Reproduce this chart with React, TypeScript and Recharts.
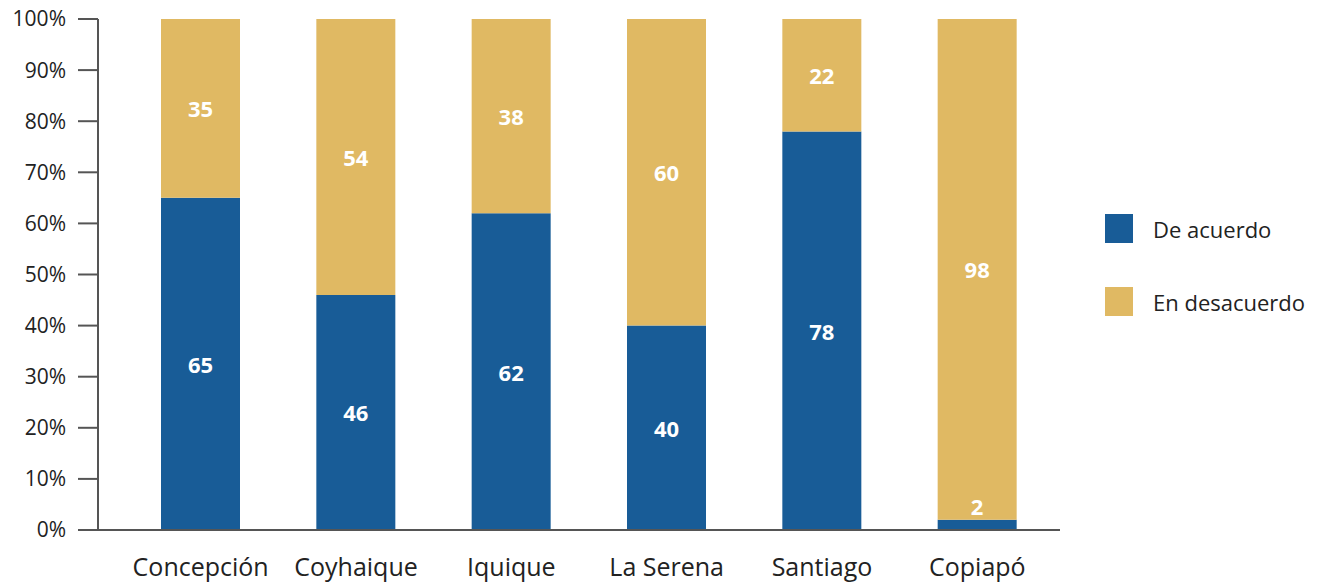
import { BarChart, Bar, XAxis, YAxis, LabelList } from 'recharts';

const CITIES = ['Concepción', 'Coyhaique', 'Iquique', 'La Serena', 'Santiago', 'Copiapó'];
const DE_ACUERDO = [65, 46, 62, 40, 78, 2];
const EN_DESACUERDO = [35, 54, 38, 60, 22, 98];
const Y_TICKS = [0, 10, 20, 30, 40, 50, 60, 70, 80, 90, 100];

const BLUE = '#185c97';
const GOLD = '#e0b963';
const AXIS = '#555555';
const FONT = "'Open Sans', sans-serif";

const data = CITIES.map((name, i) => ({
  name,
  'De acuerdo': DE_ACUERDO[i],
  'En desacuerdo': EN_DESACUERDO[i],
}));

// white value inside the segment; tiny segments get it just above
function ValueLabel(props: any) {
  const { x, y, width, height, value } = props;
  const cy = height < 20 ? y - 14 : y + height / 2;
  return (
    <text x={x + width / 2} y={cy} fill="#fff" textAnchor="middle" dominantBaseline="central"
      fontFamily={FONT} fontWeight="bold" fontSize={22}>
      {value}
    </text>
  );
}

// legend kept outside the chart so it doesn't eat plot space
function LegendBox() {
  const items = [
    { label: 'De acuerdo', color: BLUE },
    { label: 'En desacuerdo', color: GOLD },
  ];
  return (
    <div style={{ position: 'absolute', left: 1105, top: 214, fontFamily: FONT, fontSize: 22, color: '#222' }}>
      {items.map((it, i) => (
        <div key={it.label} style={{ display: 'flex', alignItems: 'center', height: 29, marginBottom: i === 0 ? 44 : 0 }}>
          <div style={{ width: 28, height: 29, background: it.color, marginRight: 20 }} />
          <span style={{ whiteSpace: 'nowrap' }}>{it.label}</span>
        </div>
      ))}
    </div>
  );
}

export default function App() {
  return (
    <div style={{ position: 'absolute', left: 0, top: 0, width: 1322, height: 582, background: '#fff' }}>
      <BarChart width={1322} height={582} data={data} margin={{ top: 19, right: 262, left: 0, bottom: 0 }}>
        <XAxis dataKey="name" height={52} padding={{ left: 25, right: 5 }} tickLine={false}
          axisLine={{ stroke: AXIS, strokeWidth: 2 }} tickMargin={22}
          tick={{ fill: '#222', fontSize: 25, fontFamily: FONT }} interval={0} />
        <YAxis width={98} domain={[0, 100]} ticks={Y_TICKS} tickFormatter={(v) => `${v}%`}
          tickSize={20} tickMargin={12} axisLine={{ stroke: AXIS, strokeWidth: 2 }}
          tickLine={{ stroke: AXIS, strokeWidth: 2 }} allowDataOverflow
          tick={{ fill: '#222', fontSize: 21, fontFamily: FONT }} />
        <Bar dataKey="De acuerdo" stackId="a" fill={BLUE} barSize={79} isAnimationActive={false}>
          <LabelList dataKey="De acuerdo" content={<ValueLabel />} />
        </Bar>
        <Bar dataKey="En desacuerdo" stackId="a" fill={GOLD} barSize={79} isAnimationActive={false}>
          <LabelList dataKey="En desacuerdo" content={<ValueLabel />} />
        </Bar>
      </BarChart>
      <LegendBox />
    </div>
  );
}
